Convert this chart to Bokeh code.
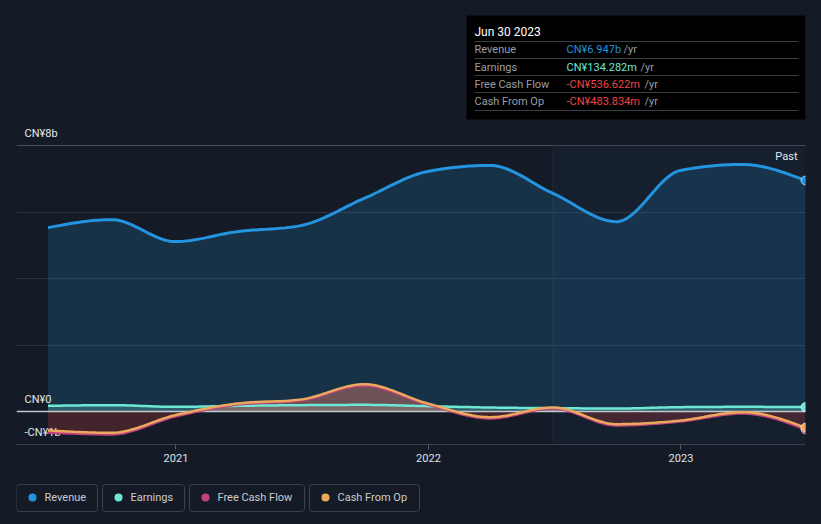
import numpy as np
import pandas as pd
from bokeh.plotting import figure
from bokeh.layouts import column
from bokeh.models import Range1d, FixedTicker, DatetimeTickFormatter, Grid
from bokeh.core.properties import value
from bokeh.embed import file_html
from bokeh.resources import INLINE

# ---------------- data (CN¥ billions, trailing twelve months) ----------------
dates = ["2020-06-30", "2020-09-30", "2020-12-31", "2021-03-31", "2021-06-30",
         "2021-09-30", "2021-12-31", "2022-03-31", "2022-06-30", "2022-09-30",
         "2022-12-31", "2023-03-31", "2023-06-30"]
revenue = [5.53, 5.77, 5.11, 5.41, 5.59, 6.41, 7.22, 7.40, 6.56, 5.71, 7.25, 7.43, 6.947]
earnings = [0.17, 0.19, 0.14, 0.17, 0.19, 0.20, 0.16, 0.12, 0.10, 0.09, 0.13, 0.14, 0.134282]
free_cash_flow = [-0.63, -0.69, -0.15, 0.21, 0.33, 0.78, 0.21, -0.21, 0.09, -0.42, -0.30, -0.06, -0.536622]
cash_from_op = [-0.57, -0.64, -0.11, 0.24, 0.36, 0.82, 0.24, -0.17, 0.12, -0.38, -0.27, -0.02, -0.483834]

series_names = ["Revenue", "Earnings", "Free Cash Flow", "Cash From Op"]
y_tick_values = [8, 0, -1]
y_tick_labels = ["CN¥8b", "CN¥0", "-CN¥1b"]
x_tick_dates = ["2021-01-01", "2022-01-01", "2023-01-01"]
x_tick_labels = ["2021", "2022", "2023"]
tooltip_title = "Jun 30 2023"
tooltip_values = ["CN¥6.947b", "CN¥134.282m", "-CN¥536.622m", "-CN¥483.834m"]
past_start = "2022-06-30"

# ---------------- styling ----------------
BG = "#151b26"
C_REV = "#2394df"
C_EARN = "#6ee7d4"
C_FCF = "#c2407f"
C_CFO = "#eba95d"
C_NEG = "#ef4444"
FONT = value("Roboto")

x = (pd.to_datetime(dates).astype("int64") // 10**6).to_numpy().astype(float)
DAY = 86400000.0
px_per_day = (681 - 176) / 730.0
x_end = x[-1]
x_start = x_end - (805 - 16) / px_per_day * DAY
y_top = (411 - 8) / 33.25
y_bot = -(444 - 411) / 33.25


def px2x(px):
    return x_start + (px - 16) / 789.0 * (x_end - x_start)


def py2y(py):
    return y_top - (py - 8) / 436.0 * (y_top - y_bot)


def monotone_curve(xs, ys, n=24):
    """Smooth rendering path (monotone cubic, like d3.curveMonotoneX)."""
    xs = np.asarray(xs, float)
    ys = np.asarray(ys, float)
    h = np.diff(xs)
    s = np.diff(ys) / h
    m = np.zeros_like(ys)
    for i in range(1, len(ys) - 1):
        p_ = (s[i - 1] * h[i] + s[i] * h[i - 1]) / (h[i - 1] + h[i])
        m[i] = (np.sign(s[i - 1]) + np.sign(s[i])) * min(abs(s[i - 1]), abs(s[i]), 0.5 * abs(p_))
    m[0] = (3 * s[0] - m[1]) / 2
    m[-1] = (3 * s[-1] - m[-2]) / 2
    out_x, out_y = [], []
    for i in range(len(ys) - 1):
        t = np.linspace(0, 1, n, endpoint=(i == len(ys) - 2))
        h00 = 2 * t**3 - 3 * t**2 + 1
        h10 = t**3 - 2 * t**2 + t
        h01 = -2 * t**3 + 3 * t**2
        h11 = t**3 - t**2
        out_x.append(xs[i] + t * h[i])
        out_y.append(h00 * ys[i] + h10 * h[i] * m[i] + h01 * ys[i + 1] + h11 * h[i] * m[i + 1])
    return np.concatenate(out_x), np.concatenate(out_y)


p = figure(width=821, height=474, output_backend="svg", toolbar_location=None,
           x_axis_type="datetime", y_axis_location=None,
           x_range=Range1d(x_start, x_end), y_range=Range1d(y_bot, y_top),
           min_border_left=16, min_border_right=16, min_border_top=8, min_border_bottom=30)
p.background_fill_color = BG
p.border_fill_color = BG
p.outline_line_color = None
p.xgrid.visible = False
p.ygrid.ticker = FixedTicker(ticks=[2, 4, 6])
p.ygrid.grid_line_color = "#2c333e"
top_grid = Grid(dimension=1, ticker=FixedTicker(ticks=[8]), grid_line_color="#474c55")
p.center.append(top_grid)

# x axis
xt = (pd.to_datetime(x_tick_dates).astype("int64") // 10**6).tolist()
ax = p.xaxis[0]
ax.ticker = FixedTicker(ticks=xt)
ax.formatter = DatetimeTickFormatter(years="%Y", months="%Y", days="%Y", hours="%Y")
ax.axis_line_color = "#3c424b"
ax.major_tick_line_color = "#555b64"
ax.major_tick_out = 5
ax.major_tick_in = 0
ax.minor_tick_line_color = None
ax.major_label_text_color = "#dfe2e6"
ax.major_label_text_font = "Roboto"
ax.major_label_text_font_size = "11px"
ax.major_label_standoff = 4

# past region
ps = float(pd.to_datetime(past_start).value // 10**6)
p.quad(left=[ps], right=[x_end], bottom=[y_bot], top=[8], fill_color="#1a3a5a", fill_alpha=0.15, line_color=None)
p.segment(x0=[ps], x1=[ps], y0=[y_bot], y1=[8], line_color="#1f2c3a", line_width=1)

# smooth paths
rx, ry = monotone_curve(x, revenue)
ex, ey = monotone_curve(x, earnings)
fx, fy = monotone_curve(x, free_cash_flow)
cx, cy = monotone_curve(x, cash_from_op)

# area fills
p.varea(x=rx, y1=0, y2=ry, fill_color=C_REV, fill_alpha=0.18)
p.varea(x=ex, y1=0, y2=ey, fill_color=C_EARN, fill_alpha=0.25)
p.varea(x=fx, y1=0, y2=np.maximum(fy, 0), fill_color=C_FCF, fill_alpha=0.25)
p.varea(x=cx, y1=0, y2=np.maximum(cy, 0), fill_color=C_CFO, fill_alpha=0.25)
p.varea(x=cx, y1=np.minimum(cy, 0), y2=0, fill_color=C_NEG, fill_alpha=0.22)

# zero line
p.segment(x0=[x_start], x1=[x_end], y0=[0], y1=[0], line_color="#c4c7cc", line_width=1.5)

# y tick labels (drawn inside, above the gridlines)
p.text(x=[px2x(24)] * len(y_tick_values), y=[v + 12.5 / 33.25 for v in y_tick_values],
       text=y_tick_labels, text_font=FONT, text_font_size="11px", text_color="#e4e7eb",
       text_align="left", text_baseline="middle")

# lines
p.line(rx, ry, line_color=C_REV, line_width=3)
p.line(ex, ey, line_color=C_EARN, line_width=2.5)
p.line(fx, fy, line_color=C_FCF, line_width=2.5)
p.line(cx, cy, line_color=C_CFO, line_width=2.5)

# end markers
for ys, col in [(revenue, C_REV), (earnings, C_EARN), (free_cash_flow, C_FCF), (cash_from_op, C_CFO)]:
    p.scatter(x=[x[-1]], y=[ys[-1]], size=9, fill_color=col, line_color="white", line_alpha=0.6, line_width=1)

# "Past" label
p.text(x=[px2x(797)], y=[py2y(156)], text=["Past"], text_font=FONT, text_font_size="11px",
       text_color="#e4e7eb", text_align="right", text_baseline="middle")

# tooltip box
p.quad(left=[px2x(466)], right=[px2x(805)], top=[py2y(15)], bottom=[py2y(119)],
       fill_color="#000000", line_color=None)
p.text(x=[px2x(474)], y=[py2y(31)], text=[tooltip_title], text_font=FONT, text_font_size="12px",
       text_color="#ffffff", text_align="left", text_baseline="middle")
sep_py = [41, 58, 75, 92, 110]
p.segment(x0=[px2x(474)] * 5, x1=[px2x(798)] * 5, y0=[py2y(v) for v in sep_py], y1=[py2y(v) for v in sep_py],
          line_color="#3a3d42", line_width=1)
row_py = [49, 66.5, 84, 101]
val_colors = [C_REV, C_EARN, C_NEG, C_NEG]
yr_px = [623, 640, 644, 644]
p.text(x=[px2x(474)] * 4, y=[py2y(v) for v in row_py], text=series_names, text_font=FONT,
       text_font_size="11px", text_color="#9a9ea5", text_align="left", text_baseline="middle")
p.text(x=[px2x(566)] * 4, y=[py2y(v) for v in row_py], text=tooltip_values, text_font=FONT,
       text_font_size="11px", text_color=val_colors, text_align="left", text_baseline="middle")
p.text(x=[px2x(v) for v in yr_px], y=[py2y(v) for v in row_py], text=["/yr"] * 4, text_font=FONT,
       text_font_size="11px", text_color="#9a9ea5", text_align="left", text_baseline="middle")

# ---------------- legend strip (frame aligned with the chart above) ----------------
lg = figure(width=821, height=50, output_backend="svg", toolbar_location=None,
            x_range=Range1d(16, 805), y_range=Range1d(524, 474),
            x_axis_location=None, y_axis_location=None,
            min_border_left=16, min_border_right=16, min_border_top=0, min_border_bottom=0)
lg.background_fill_color = BG
lg.border_fill_color = BG
lg.outline_line_color = None
lg.grid.visible = False
box_l = [16, 102, 189, 309]
box_r = [97, 184, 304, 419]
dot_x = [32, 118, 205, 325]
txt_x = [44, 130, 217, 337]
lg.quad(left=box_l, right=box_r, top=[484] * 4, bottom=[511] * 4, fill_color=None,
        line_color="#3c424c", line_width=1, border_radius=3)
lg.scatter(x=dot_x, y=[497] * 4, size=8, fill_color=[C_REV, C_EARN, C_FCF, C_CFO], line_color=None)
lg.text(x=txt_x, y=[497] * 4, text=series_names, text_font=FONT, text_font_size="11px",
        text_color="#c8ccd1", text_align="left", text_baseline="middle")

layout = column(p, lg, spacing=0)
layout.styles = {"background-color": BG}
html = file_html(layout, INLINE)
html = html.replace("</head>", "<style>html, body { background-color: #151b26 !important; }</style></head>", 1)
open("out.html", "w").write(html)
